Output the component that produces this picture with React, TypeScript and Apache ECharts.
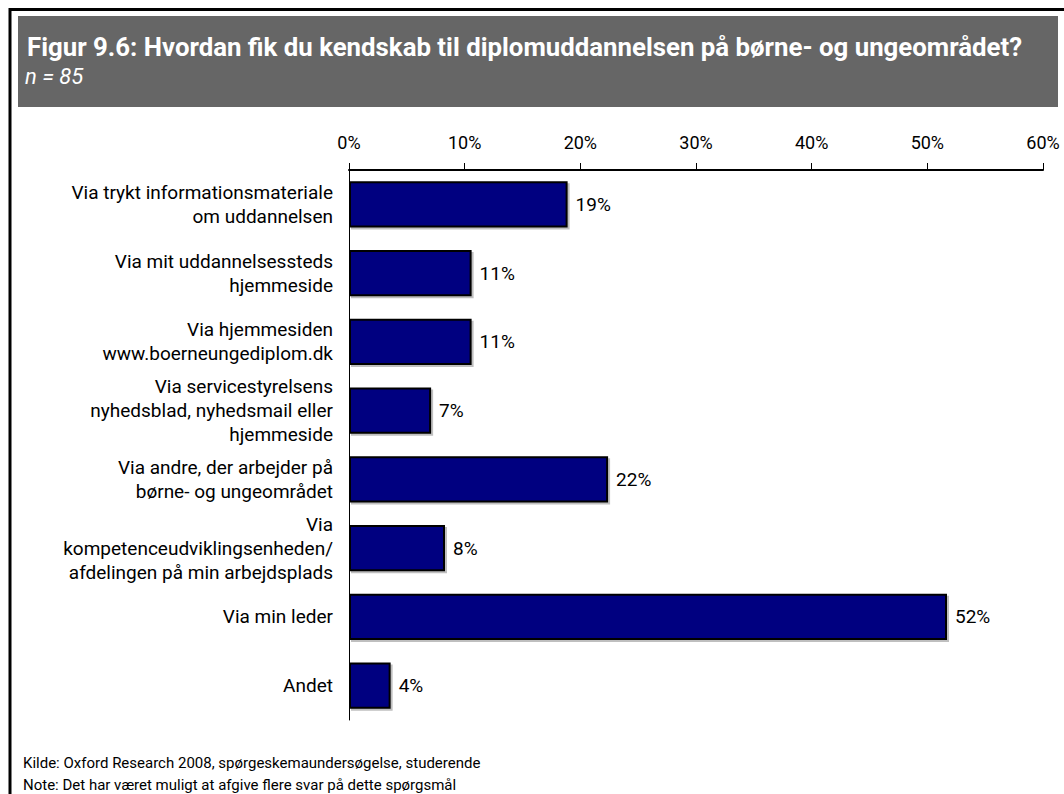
import React, { useEffect, useRef } from "react";
import * as echarts from "echarts";

const categories = [
  "Via trykt informationsmateriale\nom uddannelsen",
  "Via mit uddannelsessteds\nhjemmeside",
  "Via hjemmesiden\nwww.boerneungediplom.dk",
  "Via servicestyrelsens\nnyhedsblad, nyhedsmail eller\nhjemmeside",
  "Via andre, der arbejder på\nbørne- og ungeområdet",
  "Via\nkompetenceudviklingsenheden/\nafdelingen på min arbejdsplads",
  "Via min leder",
  "Andet",
];
const values = [18.9, 10.6, 10.6, 7.1, 22.4, 8.3, 51.7, 3.6];
const tickLabels = ["0%", "10%", "20%", "30%", "40%", "50%", "60%"];

const titleText = "Figur 9.6: Hvordan fik du kendskab til diplomuddannelsen på børne- og ungeområdet?";
const subtitleText = "n = 85";
const sourceText = "Kilde: Oxford Research 2008, spørgeskemaundersøgelse, studerende";
const noteText = "Note: Det har været muligt at afgive flere svar på dette spørgsmål";

const FONT = "Roboto, 'Open Sans', sans-serif";

export default function App() {
  const ref = useRef<HTMLDivElement>(null);
  useEffect(() => {
    if (!ref.current) return;
    const chart = echarts.init(ref.current, null, { renderer: "svg" });
    chart.setOption({
      animation: false,
      backgroundColor: "#ffffff",
      textStyle: { fontFamily: FONT },
      grid: { left: 349, right: 21, top: 170, bottom: 74, containLabel: false },
      xAxis: {
        type: "value",
        position: "top",
        min: 0,
        max: 60,
        interval: 10,
        axisLine: { show: true, lineStyle: { color: "#000", width: 2 } },
        axisTick: { show: true, length: 7, lineStyle: { color: "#000", width: 1 } },
        splitLine: { show: false },
        axisLabel: {
          color: "#000",
          fontSize: 18,
          fontFamily: FONT,
          margin: 19,
          formatter: (v: number) => tickLabels[Math.round(v / 10)] ?? "",
        },
      },
      yAxis: {
        type: "category",
        data: categories,
        inverse: true,
        axisLine: { show: true, onZero: false, lineStyle: { color: "#000", width: 1 } },
        axisTick: { show: false },
        axisLabel: {
          color: "#000",
          fontSize: 19,
          lineHeight: 24,
          fontFamily: FONT,
          margin: 16,
          align: "right",
        },
      },
      series: [
        {
          type: "bar",
          data: values,
          barCategoryGap: "33%",
          itemStyle: {
            color: "#000080",
            borderColor: "#000",
            borderWidth: 2,
            shadowColor: "rgba(0,0,0,0.25)",
            shadowOffsetX: 2,
            shadowOffsetY: 2,
            shadowBlur: 0,
          },
          label: {
            show: true,
            position: "right",
            distance: 8,
            color: "#000",
            fontSize: 19,
            fontFamily: FONT,
            formatter: (p: any) => Math.round(p.value) + "%",
          },
        },
      ],
      graphic: [
        {
          type: "rect",
          z: -10,
          silent: true,
          shape: { x: 10, y: 9.5, width: 1120, height: 900 },
          style: { fill: "none", stroke: "#000", lineWidth: 3 },
        },
        {
          type: "rect",
          silent: true,
          shape: { x: 18, y: 16, width: 1040, height: 91 },
          style: { fill: "#666666" },
        },
        {
          type: "text",
          silent: true,
          x: 27,
          y: 47,
          style: {
            text: titleText,
            fill: "#ffffff",
            font: `bold 25.8px ${FONT}`,
            verticalAlign: "middle",
          },
        },
        {
          type: "text",
          silent: true,
          x: 25,
          y: 76,
          style: {
            text: subtitleText,
            fill: "#ffffff",
            font: `italic 22px ${FONT}`,
            verticalAlign: "middle",
          },
        },
        {
          type: "text",
          silent: true,
          x: 23,
          y: 763,
          style: { text: sourceText, fill: "#000", font: `15px ${FONT}`, verticalAlign: "middle" },
        },
        {
          type: "text",
          silent: true,
          x: 23,
          y: 785,
          style: { text: noteText, fill: "#000", font: `15px ${FONT}`, verticalAlign: "middle" },
        },
      ],
    });
    return () => chart.dispose();
  }, []);
  return (
    <div
      ref={ref}
      style={{ position: "fixed", left: 0, top: 0, width: 1064, height: 794 }}
    />
  );
}
